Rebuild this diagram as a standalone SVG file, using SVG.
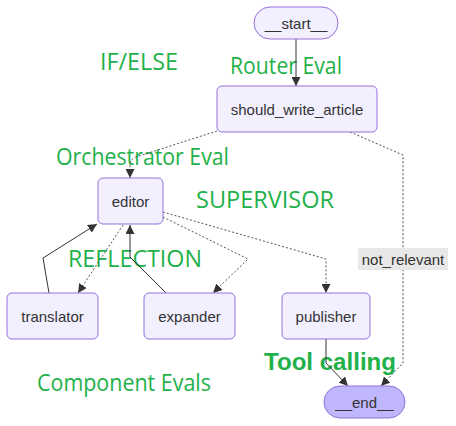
<svg xmlns="http://www.w3.org/2000/svg" width="456" height="426" viewBox="0 0 456 426">
<defs>
<style>
.node rect{fill:#f2f0ff;stroke:#9370DB;stroke-width:1}
.node.term rect{fill:#bfb6fc}
.node text,.elabel text{font-family:"Liberation Sans",Arial,sans-serif;font-size:15px;fill:#333;text-anchor:middle;dominant-baseline:central}
.ann{font-family:"Open Sans","Noto Sans",sans-serif;font-size:23px;fill:#1fb14a}
.annb{font-family:"Liberation Sans",Arial,sans-serif;font-size:24px;font-weight:bold;fill:#1fb14a}
.e{fill:none;stroke:#333;stroke-width:1}
.d{fill:none;stroke:#555;stroke-width:1;stroke-dasharray:2 2}
</style>
<marker id="ah" viewBox="0 0 10 10" refX="10" refY="5" markerWidth="9" markerHeight="9" markerUnits="userSpaceOnUse" orient="auto"><path d="M0,0 L10,5 L0,10 z" fill="#333"/></marker>
</defs>
<rect width="456" height="426" fill="#fff"/>
<g id="annotations">
<text class="ann" x="100" y="70" textLength="78" lengthAdjust="spacingAndGlyphs">IF/ELSE</text>
<text class="ann" x="230" y="74" textLength="112" lengthAdjust="spacingAndGlyphs">Router Eval</text>
<text class="ann" x="56" y="165" textLength="173" lengthAdjust="spacingAndGlyphs">Orchestrator Eval</text>
<text class="ann" x="196" y="208" textLength="138" lengthAdjust="spacingAndGlyphs">SUPERVISOR</text>
<text class="ann" x="68" y="267" textLength="134" lengthAdjust="spacingAndGlyphs">REFLECTION</text>
<text class="ann" x="37" y="391" textLength="174" lengthAdjust="spacingAndGlyphs">Component Evals</text>
<text class="annb" x="264" y="370" textLength="132" lengthAdjust="spacingAndGlyphs">Tool calling</text>
</g>
<g id="connectors">
<path class="e" d="M296,39 L296,86" marker-end="url(#ah)"/>
<path class="d" d="M217,131 L136,157 Q130,159 130,165 L130,178" marker-end="url(#ah)"/>
<path class="d" d="M350,132 L403,155 L403,363 L381,386" marker-end="url(#ah)"/>
<path class="d" d="M123,225 L78,293" marker-end="url(#ah)"/>
<path class="e" d="M49,293 L43,258 L97,224" marker-end="url(#ah)"/>
<path class="e" d="M166,293 L130,257 L130,225" marker-end="url(#ah)"/>
<path class="d" d="M163,217 L248,259 L213,293" marker-end="url(#ah)"/>
<path class="d" d="M163,212 L326,259 L326,293" marker-end="url(#ah)"/>
<path class="e" d="M326,339 L326,363 L348,386" marker-end="url(#ah)"/>
</g>
<g id="edge-label-not_relevant" class="elabel">
<rect x="358" y="248" width="90" height="22" fill="#e8e8e8"/>
<text x="403" y="259">not_relevant</text>
</g>
<g id="node-start" class="node term"><rect x="254" y="7" width="84" height="32" rx="16" style="fill:#f2f0ff"/><text x="296" y="23">__start__</text></g>
<g id="node-should_write_article" class="node"><rect x="217" y="86" width="160" height="46" rx="5"/><text x="297" y="109">should_write_article</text></g>
<g id="node-editor" class="node"><rect x="98" y="178" width="65" height="46" rx="5"/><text x="130.5" y="201">editor</text></g>
<g id="node-translator" class="node"><rect x="7" y="293" width="91" height="46" rx="5"/><text x="52.5" y="316">translator</text></g>
<g id="node-expander" class="node"><rect x="144" y="293" width="91" height="46" rx="5"/><text x="189.5" y="316">expander</text></g>
<g id="node-publisher" class="node"><rect x="282" y="293" width="88" height="46" rx="5"/><text x="326" y="316">publisher</text></g>
<g id="node-end" class="node term"><rect x="324" y="386" width="81" height="32" rx="16"/><text x="364.5" y="402">__end__</text></g>
</svg>
